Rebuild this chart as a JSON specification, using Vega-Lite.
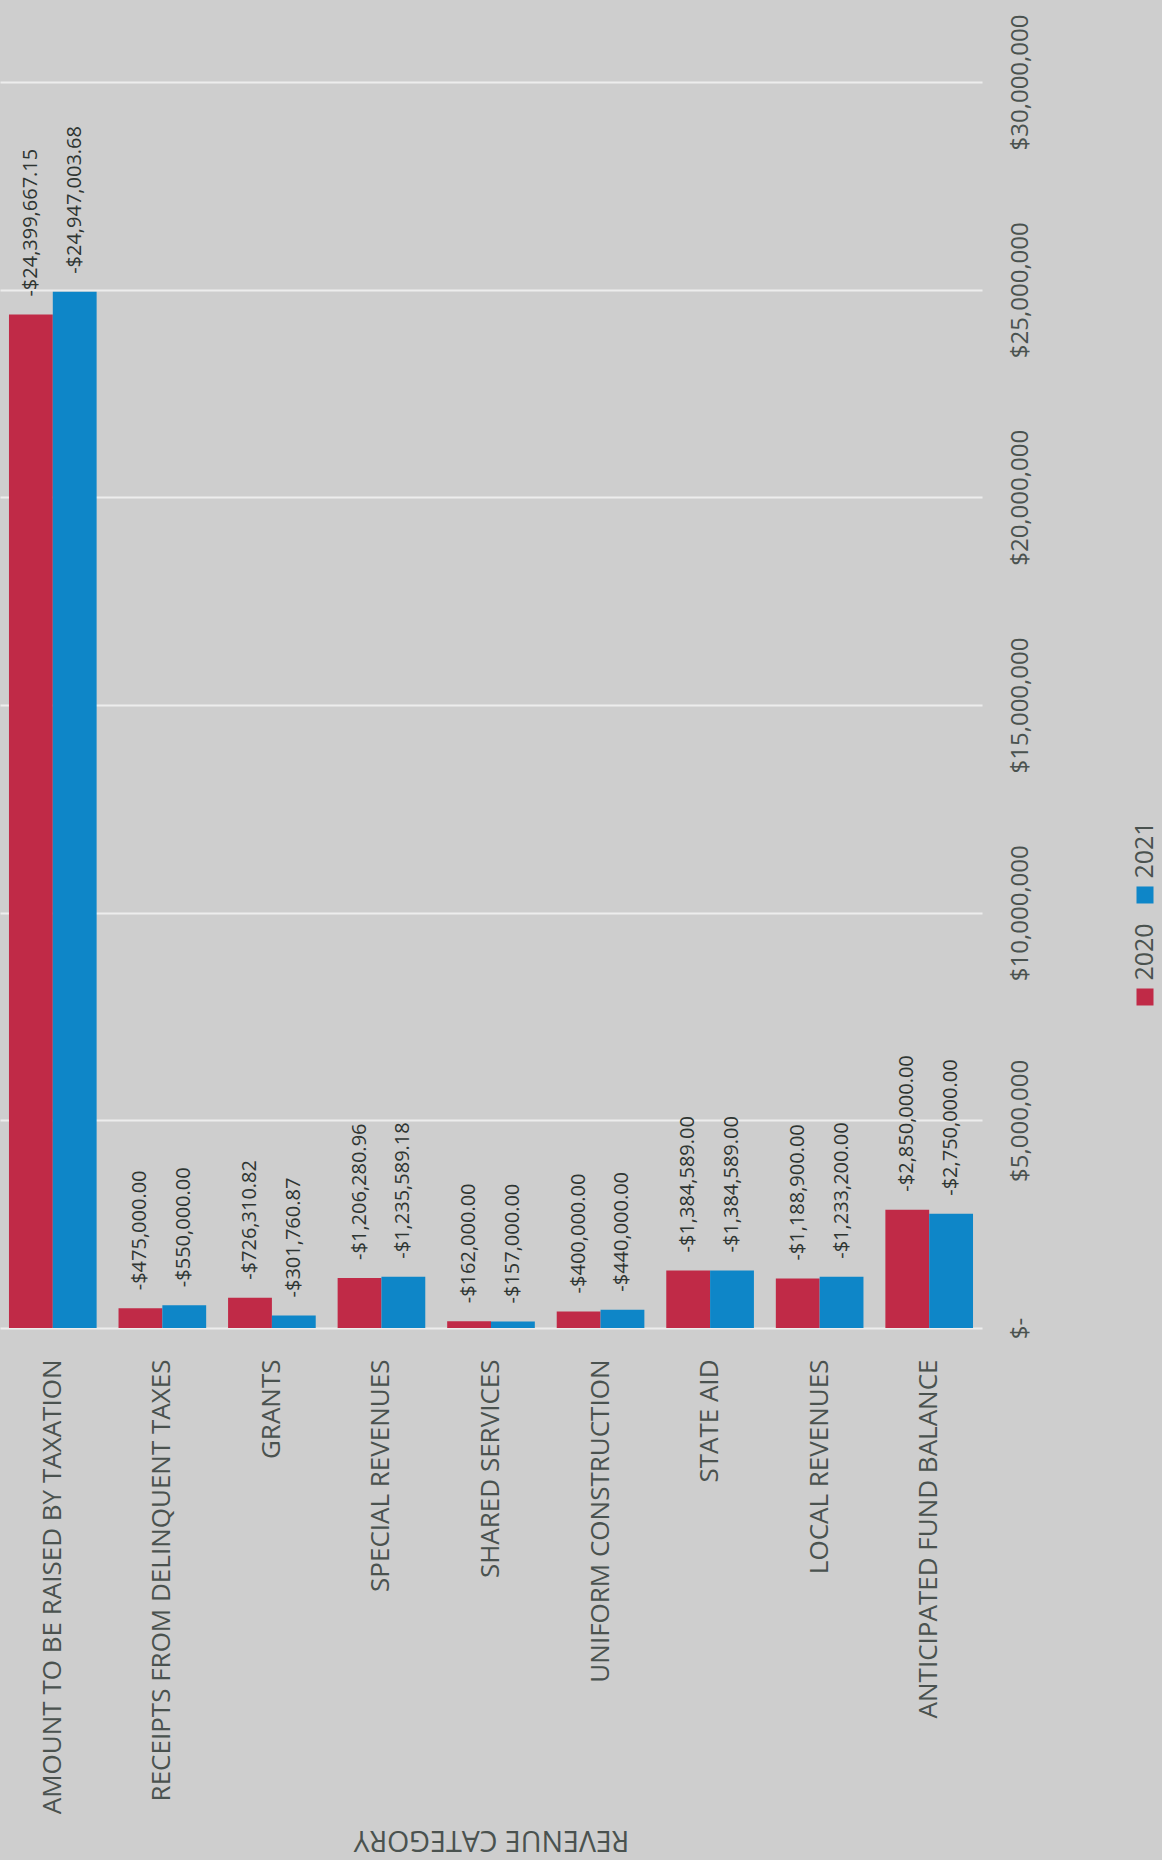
{
  "$schema": "https://vega.github.io/schema/vega-lite/v6.json",
  "background": "#cecece",
  "padding": {"left": 0, "top": 14, "right": 4, "bottom": 24},
  "spacing": 101,
  "config": {
    "view": {"stroke": null},
    "font": "Open Sans",
    "locale": {"number": {"decimal": ".", "thousands": ",", "grouping": [3], "currency": ["-$", ""]}}
  },
  "resolve": {"scale": {"color": "independent"}},
  "datasets": {
    "revenue": [
      {"category": "AMOUNT TO BE RAISED BY TAXATION", "year": 2020, "amount": 24399667.15},
      {"category": "AMOUNT TO BE RAISED BY TAXATION", "year": 2021, "amount": 24947003.68},
      {"category": "RECEIPTS FROM DELINQUENT TAXES", "year": 2020, "amount": 475000.00},
      {"category": "RECEIPTS FROM DELINQUENT TAXES", "year": 2021, "amount": 550000.00},
      {"category": "GRANTS", "year": 2020, "amount": 726310.82},
      {"category": "GRANTS", "year": 2021, "amount": 301760.87},
      {"category": "SPECIAL REVENUES", "year": 2020, "amount": 1206280.96},
      {"category": "SPECIAL REVENUES", "year": 2021, "amount": 1235589.18},
      {"category": "SHARED SERVICES", "year": 2020, "amount": 162000.00},
      {"category": "SHARED SERVICES", "year": 2021, "amount": 157000.00},
      {"category": "UNIFORM CONSTRUCTION", "year": 2020, "amount": 400000.00},
      {"category": "UNIFORM CONSTRUCTION", "year": 2021, "amount": 440000.00},
      {"category": "STATE AID", "year": 2020, "amount": 1384589.00},
      {"category": "STATE AID", "year": 2021, "amount": 1384589.00},
      {"category": "LOCAL REVENUES", "year": 2020, "amount": 1188900.00},
      {"category": "LOCAL REVENUES", "year": 2021, "amount": 1233200.00},
      {"category": "ANTICIPATED FUND BALANCE", "year": 2020, "amount": 2850000.00},
      {"category": "ANTICIPATED FUND BALANCE", "year": 2021, "amount": 2750000.00}
    ],
    "years": [{"year": 2020}, {"year": 2021}]
  },
  "hconcat": [
    {
      "width": 982,
      "height": 1246,
      "data": {"name": "revenue"},
      "encoding": {
        "x": {
          "field": "category", "type": "nominal", "sort": null,
          "scale": {"paddingInner": 0.2, "paddingOuter": 0.082},
          "axis": {
            "title": "REVENUE CATEGORY", "titleAngle": 180, "titleFontSize": 28.5, "titleFontWeight": "normal",
            "titleColor": "#4a524f", "titleBaseline": "middle", "titleY": 511,
            "labelAngle": -90, "labelAlign": "right", "labelBaseline": "middle", "labelPadding": 31,
            "labelFontSize": 26, "labelColor": "#4a524f", "labelLimit": 700,
            "domain": false, "ticks": false, "grid": false
          }
        },
        "xOffset": {"field": "year", "type": "nominal", "scale": {"paddingInner": 0, "paddingOuter": 0}},
        "y": {
          "field": "amount", "type": "quantitative",
          "scale": {"domain": [0, 30000000], "nice": false},
          "axis": {
            "orient": "right", "title": null,
            "values": [0, 5000000, 10000000, 15000000, 20000000, 25000000, 30000000],
            "grid": true, "gridColor": "#ededed", "gridWidth": 2,
            "domain": false, "ticks": false,
            "labelAngle": -90, "labelAlign": "center", "labelBaseline": "top", "labelPadding": 26,
            "labelFontSize": 24, "labelColor": "#4a524f", "labelFlush": false, "labelOverlap": false,
            "labelExpr": "datum.value == 0 ? '$-' : '$' + format(datum.value, ',')"
          }
        }
      },
      "layer": [
        {
          "mark": {"type": "bar"},
          "encoding": {
            "color": {"field": "year", "type": "nominal", "scale": {"domain": [2020, 2021], "range": ["#C02A47", "#0E86C8"]}, "legend": null}
          }
        },
        {
          "mark": {"type": "text", "angle": -90, "align": "left", "baseline": "middle", "dx": 18, "fontSize": 20, "color": "#2e3532"},
          "encoding": {"text": {"field": "amount", "type": "quantitative", "format": "$,.2f"}}
        }
      ]
    },
    {
      "width": 20,
      "height": 1246,
      "data": {"name": "years"},
      "encoding": {
        "y": {"field": "year", "type": "quantitative", "scale": {"domain": [2016.755, 2028.97], "nice": false, "zero": false}, "axis": null}
      },
      "layer": [
        {
          "mark": {"type": "point", "shape": "square", "filled": true, "size": 289, "opacity": 1},
          "encoding": {
            "color": {"field": "year", "type": "nominal", "scale": {"domain": [2020, 2021], "range": ["#C02A47", "#0E86C8"]}, "legend": null}
          }
        },
        {
          "mark": {"type": "text", "angle": -90, "align": "center", "baseline": "middle", "dx": 45, "fontSize": 25, "color": "#4a524f"},
          "encoding": {"text": {"field": "year", "type": "nominal"}}
        }
      ]
    }
  ]
}
